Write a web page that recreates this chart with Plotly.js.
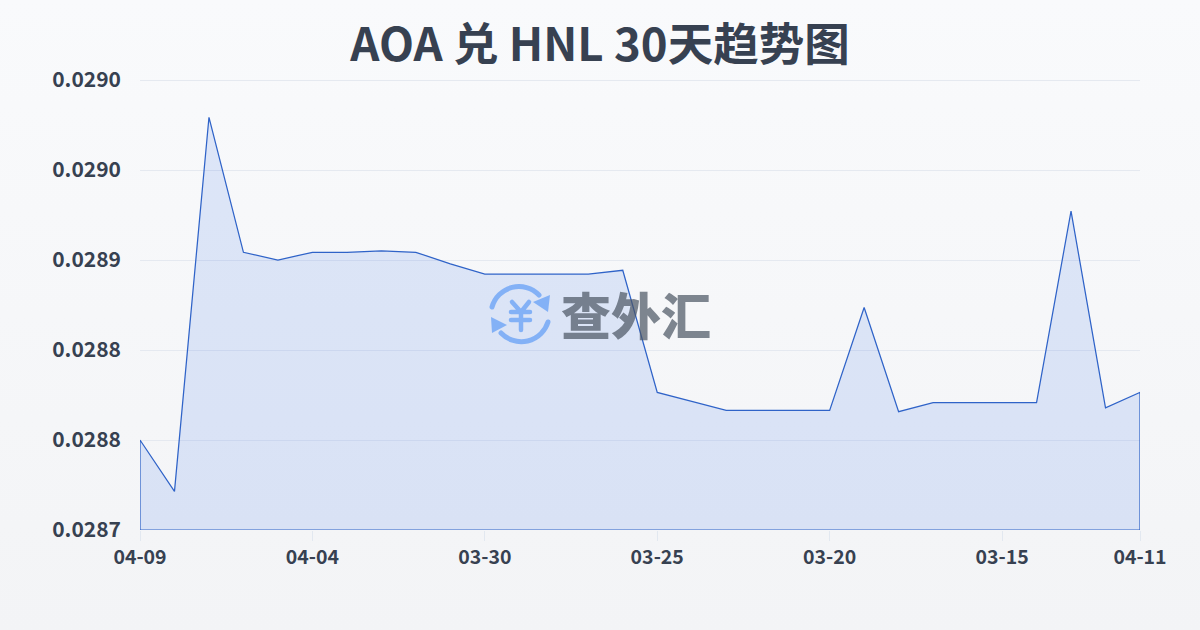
<!DOCTYPE html>
<html><head><meta charset="utf-8">
<script src="https://cdn.plot.ly/plotly-3.0.1.min.js"></script>
<style>
html,body{margin:0;padding:0;width:1200px;height:630px;overflow:hidden;background:linear-gradient(180deg,#f9fafc 0%,#f3f4f6 100%);}
#wm{position:absolute;left:488px;top:284px;width:230px;height:62px;z-index:2;opacity:.7;}
#wm span{position:absolute;left:73px;top:-3px;font:900 50px "Noto Sans CJK SC";color:#4b5563;line-height:64px;white-space:nowrap;}
#chart{position:absolute;left:0;top:0;width:1200px;height:630px;z-index:1;}
</style></head><body>
<div id="chart"></div>
<div id="wm">
<svg width="66" height="62" viewBox="0 0 66 62" style="position:absolute;left:0;top:0">
<g fill="none" stroke="#5f9cf6" stroke-width="5" stroke-linecap="round">
<path d="M4 23 A28 28 0 0 1 51 11"/>
<path d="M60 38 A28 28 0 0 1 13 49"/>
<path d="M24 18 L33 28 L41 18 M33 28 V46 M23 28 H42 M23 36 H42" stroke-width="4.5"/>
</g>
<path d="M62 11 L60 28 L45 18 Z" fill="#5f9cf6"/>
<path d="M3 33 L4 49 L19 41 Z" fill="#5f9cf6"/>
</svg>
<span>查外汇</span>
</div>
<script>
const dateLabels = ["04-09","04-04","03-30","03-25","03-20","03-15","04-11"];
const dateTickIndex = [0,5,10,15,20,25,29];
const rates = [0.028770,0.028730,0.029021,0.028916,0.028910,0.028916,0.028916,0.028917,0.028916,0.028907,0.028899,0.028899,0.028899,0.028899,0.028902,0.028807,0.028800,0.028793,0.028793,0.028793,0.028793,0.028873,0.028792,0.028799,0.028799,0.028799,0.028799,0.028948,0.028795,0.028807];
const yTickValues = [0.0287,0.02877,0.02884,0.02891,0.02898,0.02905];
const yTickLabels = ["0.0287","0.0288","0.0288","0.0289","0.0290","0.0290"];
const titleText = "AOA 兑 HNL 30天趋势图";

const idx = rates.map((_,i)=>i);
const last = rates.length-1, base = yTickValues[0];
const trace = {
  x: idx.concat([last,0,0]),
  y: rates.concat([base,base,rates[0]]),
  type:'scatter', mode:'lines', fill:'toself',
  fillcolor:'rgba(37,99,235,0.13)',
  line:{color:'#2f63c8',width:1.25,shape:'linear'},
  hoverinfo:'skip', cliponaxis:false
};
const font='"Noto Sans CJK SC",sans-serif';
const layout = {
  width:1200,height:630,
  paper_bgcolor:'rgba(0,0,0,0)',plot_bgcolor:'rgba(0,0,0,0)',
  margin:{l:140,r:59.5,t:78,b:100,pad:0},
  showlegend:false,
  title:{text:'<b>'+titleText+'</b>',x:0.5,xanchor:'center',y:0.928,yanchor:'middle',font:{family:font,size:45.5,color:'#374151'}},
  xaxis:{range:[0,last],tickmode:'array',tickvals:dateTickIndex,ticktext:dateLabels.map(s=>'<b>'+s+'</b>'),
    showgrid:false,zeroline:false,showline:false,ticks:'outside',ticklen:10,tickwidth:1,tickcolor:'#e2e8f0',
    tickfont:{family:font,size:19.5,color:'#374151'},tickangle:0,automargin:false},
  yaxis:{range:[base,yTickValues[5]+2*7.78e-7],tickmode:'array',tickvals:yTickValues,ticktext:yTickLabels.map(s=>'<b>'+s+'</b>'),
    showgrid:true,gridcolor:'#e5e9f0',gridwidth:1,zeroline:false,showline:false,ticks:'',
    ticklabelstandoff:18,tickfont:{family:font,size:21,color:'#374151'},automargin:false}
};
Plotly.newPlot('chart',[trace],layout,{displayModeBar:false,staticPlot:true});
</script>
</body></html>
